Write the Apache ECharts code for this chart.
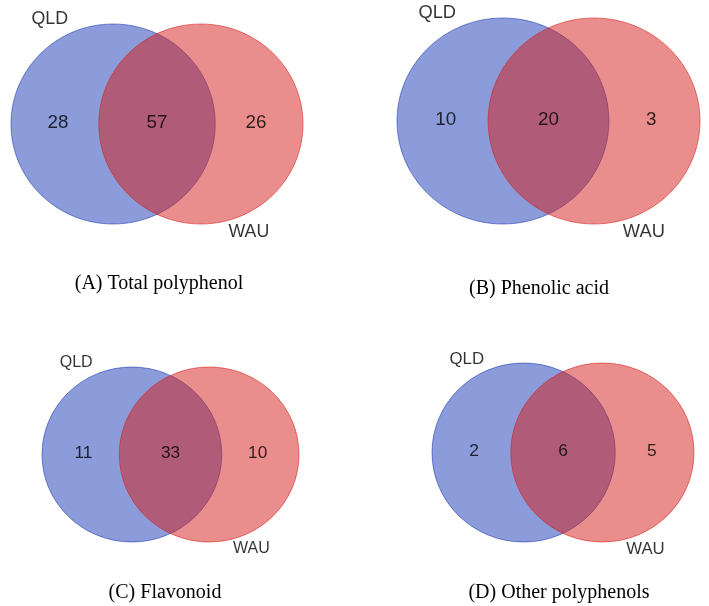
<!DOCTYPE html>
<html>
<head>
<meta charset="utf-8">
<script src="https://cdn.jsdelivr.net/npm/echarts@6/dist/echarts.min.js"></script>
<style>html,body{margin:0;padding:0;background:#fff}#c{width:709px;height:606px}</style>
</head>
<body>
<div id="c"></div>
<script>
// ---- data ----
const panelTitles = ['(A) Total polyphenol', '(B) Phenolic acid', '(C) Flavonoid', '(D) Other polyphenols'];
const setNames = ['QLD', 'WAU'];
const onlyQLD = [28, 10, 11, 2];
const shared = [57, 20, 33, 6];
const onlyWAU = [26, 3, 10, 5];

// ---- layout (pixels / unit positions) ----
const grids = [
  {left: 11, top: 24, width: 292, height: 200},
  {left: 397, top: 18, width: 303, height: 206},
  {left: 42, top: 367, width: 257, height: 175},
  {left: 432, top: 363, width: 262, height: 179}
];
const titlePos = [[159, 273.5], [539, 278.5], [165, 582.5], [559, 582.5]];
const labelFont = [17.8, 18.3, 16, 16.8];
const numFont = [18.8, 18.8, 17.2, 17.4];
const half = 0.43;      // half distance between circle centres (radius = 1)
const xExt = 1 + half;

const chart = echarts.init(document.getElementById('c'), null, {renderer: 'canvas'});

const option = {
  backgroundColor: '#fff',
  animation: false,
  title: panelTitles.map((t, i) => ({
    text: t, left: titlePos[i][0], top: titlePos[i][1], textAlign: 'center', padding: 0,
    textStyle: {fontFamily: 'Liberation Serif', fontWeight: 'normal', fontSize: 20, color: '#000'}
  })),
  grid: grids.map(g => Object.assign({containLabel: false}, g)),
  xAxis: grids.map((g, i) => ({type: 'value', gridIndex: i, min: -xExt, max: xExt, show: false})),
  yAxis: grids.map((g, i) => ({type: 'value', gridIndex: i, min: -1, max: 1, show: false})),
  series: []
};

const fills = ['rgba(25,55,179,0.5)', 'rgba(211,29,25,0.5)'];
const strokes = ['rgba(25,55,179,0.55)', 'rgba(211,29,25,0.55)'];

panelTitles.forEach((t, i) => {
  option.series.push({
    type: 'custom', xAxisIndex: i, yAxisIndex: i, silent: true, clip: false,
    data: [[-half, 0, 0], [half, 0, 1]],
    renderItem: function (params, api) {
      const c = api.coord([api.value(0), api.value(1)]);
      const s = api.size([1, 1]);
      const k = api.value(2);
      return {
        type: 'ellipse',
        shape: {cx: c[0], cy: c[1], rx: s[0], ry: s[1]},
        style: {fill: fills[k], stroke: strokes[k], lineWidth: 1}
      };
    }
  });
  // counts
  option.series.push({
    type: 'scatter', xAxisIndex: i, yAxisIndex: i, silent: true, symbolSize: 0, clip: false,
    data: [[-0.97, 0.015, onlyQLD[i]], [0, 0.015, shared[i]], [0.97, 0.015, onlyWAU[i]]],
    label: {show: true, position: 'inside', formatter: p => String(p.value[2]),
      fontFamily: 'Liberation Sans', fontSize: numFont[i], color: '#000', textBorderWidth: 0}
  });
  // set names
  option.series.push({
    type: 'scatter', xAxisIndex: i, yAxisIndex: i, silent: true, symbolSize: 0, clip: false,
    data: [
      {value: [-1.05, 1.045], name: setNames[0]},
      {value: [0.9, -1.08], name: setNames[1]}
    ],
    label: {show: true, position: 'inside', formatter: p => p.name,
      fontFamily: 'Liberation Sans', fontSize: labelFont[i], color: '#000', textBorderWidth: 0}
  });
});

chart.setOption(option);
</script>
</body>
</html>
